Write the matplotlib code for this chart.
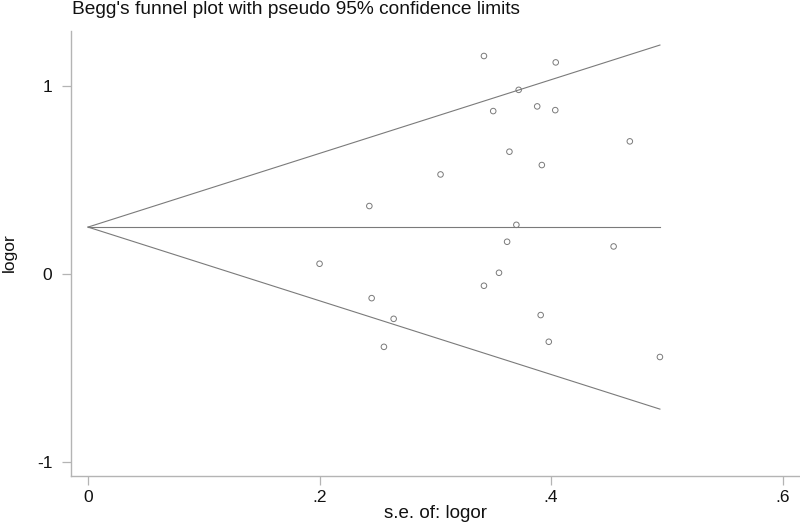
import numpy as np
import matplotlib
matplotlib.use('Agg')
from matplotlib import pyplot as plt

plt.rcParams['font.family'] = ['Liberation Sans', 'DejaVu Sans']

# standard errors and log odds ratios
se_logor = [0.342, 0.3045, 0.243, 0.404, 0.372, 0.350, 0.388, 0.4036,
            0.468, 0.364, 0.392, 0.200, 0.245, 0.264, 0.2556, 0.342,
            0.370, 0.362, 0.454, 0.355, 0.391, 0.398, 0.494]
logor = [1.160, 0.530, 0.362, 1.126, 0.980, 0.867, 0.892, 0.872,
         0.706, 0.651, 0.580, 0.055, -0.128, -0.238, -0.387, -0.062,
         0.262, 0.172, 0.147, 0.007, -0.218, -0.360, -0.441]
pooled = 0.25

x_ticks = [0, 0.2, 0.4, 0.6]
x_tick_labels = ['0', '.2', '.4', '.6']
y_ticks = [-1, 0, 1]
y_tick_labels = ['-1', '0', '1']

line_col = '#7a7a7a'
axis_col = '#b4b4b4'

fig = plt.figure(figsize=(8, 5.25), dpi=100)
ax = fig.add_axes([71/800, 1-476/525, 729/800, 445/525])

# pseudo 95% limits
se_max = max(se_logor)
s = np.array([0, se_max])
ax.plot(s, pooled + 1.96*s, color=line_col, lw=0.8)
ax.plot(s, pooled - 1.96*s, color=line_col, lw=0.8)
ax.plot(s, [pooled, pooled], color=line_col, lw=0.8)

ax.scatter(se_logor, logor, s=16, facecolors='none', edgecolors=line_col,
           linewidths=0.7, zorder=3)

ax.set_xlim(-0.0147, 0.615)
ax.set_ylim(-1.074, 1.293)
ax.set_xticks(x_ticks)
ax.set_xticklabels(x_tick_labels)
ax.set_yticks(y_ticks)
ax.set_yticklabels(y_tick_labels)

for side in ['top', 'right']:
    ax.spines[side].set_visible(False)
for side in ['left', 'bottom']:
    ax.spines[side].set_color(axis_col)
    ax.spines[side].set_linewidth(1.0)
ax.tick_params(axis='both', direction='out', length=6.5, width=0.9,
               color=axis_col, labelsize=12.5, labelcolor='#111111')
ax.tick_params(axis='x', pad=3.5)
ax.tick_params(axis='y', pad=7)

fig.text(72/800, 1-0.5/525, "Begg's funnel plot with pseudo 95% confidence limits",
         ha='left', va='top', fontsize=13.8, color='#111111')
fig.text(435.5/800, 1-514/525, 's.e. of: logor', ha='center', va='center',
         fontsize=13.5, color='#111111')
fig.text(9/800, 1-253/525, 'logor', rotation=90, ha='center', va='center',
         fontsize=12.5, color='#111111')

fig.savefig('out.png', dpi=100)
